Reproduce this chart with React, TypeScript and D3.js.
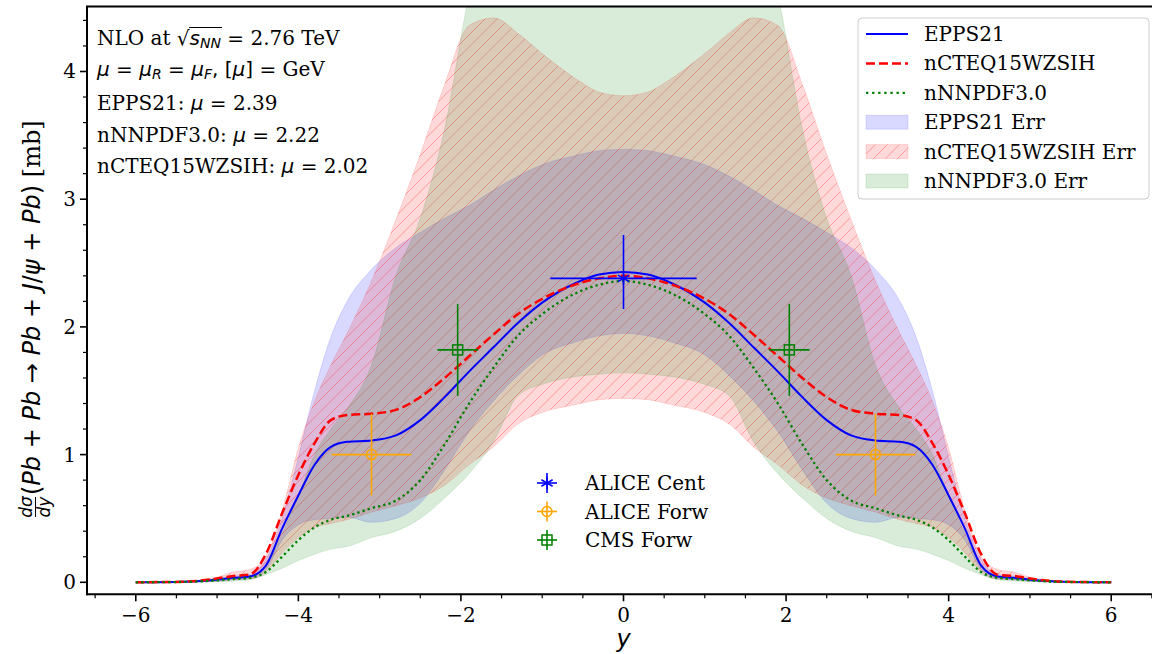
import React, { useLayoutEffect, useRef, useState } from 'react';
import * as d3 from 'd3';

// rapidity grid
const rapidity = [-6, -5.4, -5.0, -4.8, -4.6, -4.4, -4.2, -4.0, -3.8, -3.6, -3.4, -3.1, -2.8, -2.5, -2.2, -1.9, -1.6, -1.3, -1.0, -0.6, -0.3, 0, 0.3, 0.6, 1.0, 1.3, 1.6, 1.9, 2.2, 2.5, 2.8, 3.1, 3.4, 3.6, 3.8, 4.0, 4.2, 4.4, 4.6, 4.8, 5.0, 5.4, 6];

// central predictions
const eppsCentral = [0, 0.005, 0.02, 0.035, 0.045, 0.13, 0.42, 0.68, 0.92, 1.06, 1.10, 1.11, 1.15, 1.27, 1.45, 1.65, 1.84, 2.03, 2.19, 2.34, 2.41, 2.43, 2.41, 2.34, 2.19, 2.03, 1.84, 1.65, 1.45, 1.27, 1.15, 1.11, 1.10, 1.06, 0.92, 0.68, 0.42, 0.13, 0.045, 0.035, 0.02, 0.005, 0];
const ncteqCentral = [0, 0.005, 0.03, 0.05, 0.06, 0.22, 0.54, 0.84, 1.09, 1.27, 1.31, 1.32, 1.35, 1.45, 1.60, 1.77, 1.94, 2.10, 2.22, 2.33, 2.38, 2.40, 2.38, 2.33, 2.22, 2.10, 1.94, 1.77, 1.60, 1.45, 1.35, 1.32, 1.31, 1.27, 1.09, 0.84, 0.54, 0.22, 0.06, 0.05, 0.03, 0.005, 0];
const nnpdfCentral = [0, 0.003, 0.015, 0.025, 0.035, 0.08, 0.20, 0.33, 0.43, 0.49, 0.52, 0.58, 0.64, 0.80, 1.08, 1.40, 1.68, 1.93, 2.10, 2.26, 2.33, 2.36, 2.33, 2.26, 2.10, 1.93, 1.68, 1.40, 1.08, 0.80, 0.64, 0.58, 0.52, 0.49, 0.43, 0.33, 0.20, 0.08, 0.035, 0.025, 0.015, 0.003, 0];

// uncertainty bands
const eppsHi = [0, 0.005, 0.03, 0.05, 0.06, 0.18, 0.50, 0.98, 1.50, 1.92, 2.20, 2.45, 2.62, 2.74, 2.85, 2.95, 3.07, 3.18, 3.27, 3.34, 3.38, 3.39, 3.38, 3.34, 3.27, 3.18, 3.07, 2.95, 2.85, 2.74, 2.62, 2.45, 2.20, 1.92, 1.50, 0.98, 0.50, 0.18, 0.06, 0.05, 0.03, 0.005, 0];
const eppsLo = [0, 0.002, 0.01, 0.02, 0.03, 0.10, 0.33, 0.45, 0.49, 0.50, 0.51, 0.47, 0.50, 0.62, 0.88, 1.18, 1.42, 1.62, 1.78, 1.88, 1.93, 1.95, 1.93, 1.88, 1.78, 1.62, 1.42, 1.18, 0.88, 0.62, 0.50, 0.47, 0.51, 0.50, 0.49, 0.45, 0.33, 0.10, 0.03, 0.02, 0.01, 0.002, 0];
const ncteqHi = [0, 0.01, 0.04, 0.08, 0.10, 0.20, 0.56, 1.05, 1.42, 1.70, 1.95, 2.36, 2.84, 3.35, 3.90, 4.36, 4.42, 4.30, 4.14, 3.95, 3.84, 3.81, 3.84, 3.95, 4.14, 4.30, 4.42, 4.36, 3.90, 3.35, 2.84, 2.36, 1.95, 1.70, 1.42, 1.05, 0.56, 0.20, 0.10, 0.08, 0.04, 0.01, 0];
const ncteqLo = [0, 0.002, 0.01, 0.02, 0.025, 0.08, 0.23, 0.35, 0.43, 0.46, 0.49, 0.55, 0.60, 0.66, 0.76, 0.92, 1.06, 1.24, 1.33, 1.39, 1.43, 1.44, 1.43, 1.39, 1.33, 1.24, 1.06, 0.92, 0.76, 0.66, 0.60, 0.55, 0.49, 0.46, 0.43, 0.35, 0.23, 0.08, 0.025, 0.02, 0.01, 0.002, 0];
const nnpdfHi = [0, 0.005, 0.03, 0.04, 0.05, 0.13, 0.38, 0.68, 1.00, 1.20, 1.36, 1.70, 2.40, 2.85, 3.55, 4.60, 5.30, 5.60, 5.70, 5.70, 5.70, 5.70, 5.70, 5.70, 5.70, 5.60, 5.30, 4.60, 3.55, 2.85, 2.40, 1.70, 1.36, 1.20, 1.00, 0.68, 0.38, 0.13, 0.05, 0.04, 0.03, 0.005, 0];
const nnpdfLo = [0, 0.001, 0.005, 0.01, 0.02, 0.06, 0.11, 0.17, 0.22, 0.26, 0.28, 0.35, 0.40, 0.50, 0.66, 0.85, 1.10, 1.46, 1.55, 1.61, 1.63, 1.64, 1.63, 1.61, 1.55, 1.46, 1.10, 0.85, 0.66, 0.50, 0.40, 0.35, 0.28, 0.26, 0.22, 0.17, 0.11, 0.06, 0.02, 0.01, 0.005, 0.001, 0];

// measurements
const aliceCentX = [0];
const aliceCentY = [2.38];
const aliceCentYLo = [2.14];
const aliceCentYHi = [2.72];
const aliceCentXErr = [0.9];
const aliceForwX = [-3.1, 3.1];
const aliceForwY = [1.0, 1.0];
const aliceForwYErr = [0.32, 0.32];
const aliceForwXErr = [0.49, 0.49];
const cmsForwX = [-2.04, 2.04];
const cmsForwY = [1.82, 1.82];
const cmsForwYErr = [0.36, 0.36];
const cmsForwXErr = [0.25, 0.25];

const xMajorTicks = [-6, -4, -2, 0, 2, 4, 6];
const yMajorTicks = [0, 1, 2, 3, 4];

const theoryLegend = ['EPPS21', 'nCTEQ15WZSIH', 'nNNPDF3.0', 'EPPS21 Err', 'nCTEQ15WZSIH Err', 'nNNPDF3.0 Err'];
const dataLegend = ['ALICE Cent', 'ALICE Forw', 'CMS Forw'];

const SERIF = "'DejaVu Serif', 'Liberation Serif', serif";
const SANS = "'DejaVu Sans', 'Liberation Sans', sans-serif";

const BLUE = '#0000ff';
const RED = '#ff0000';
const GREEN = '#008000';
const ORANGE = '#ffa500';

function Marker({ kind, cx, cy, color }: { kind: string; cx: number; cy: number; color: string }) {
  if (kind === 'star') {
    const r = 6.5;
    const a = Math.PI / 6;
    return (
      <g stroke={color} strokeWidth={1.5} fill="none">
        <line x1={cx} y1={cy - r} x2={cx} y2={cy + r} />
        <line x1={cx - r * Math.cos(a)} y1={cy - r * Math.sin(a)} x2={cx + r * Math.cos(a)} y2={cy + r * Math.sin(a)} />
        <line x1={cx - r * Math.cos(a)} y1={cy + r * Math.sin(a)} x2={cx + r * Math.cos(a)} y2={cy - r * Math.sin(a)} />
      </g>
    );
  }
  if (kind === 'circle') {
    return <circle cx={cx} cy={cy} r={5} fill="none" stroke={color} strokeWidth={1.5} />;
  }
  return <rect x={cx - 5} y={cy - 5} width={10} height={10} fill="none" stroke={color} strokeWidth={1.5} />;
}

export default function App() {
  const textRef = useRef<SVGTextElement>(null);
  const [ov, setOv] = useState<{ x1: number; x2: number } | null>(null);

  useLayoutEffect(() => {
    const t = textRef.current;
    if (!t) return;
    try {
      const a = t.getEndPositionOfChar(7).x;
      const b = t.getEndPositionOfChar(10).x;
      setOv({ x1: a - 0.5, x2: b + 1 });
    } catch (e) {
      /* ignore */
    }
  }, []);

  const left = 87, right = 1160, top = 6.5, bottom = 594.3;
  const x = d3.scaleLinear().domain([-6.6, 6.6]).range([left, right]);
  const y = d3.scaleLinear().domain([-0.094, 4.509]).range([bottom, top]);

  const band = (lo: number[], hi: number[]) =>
    d3.area<number>()
      .x((d) => x(d))
      .y0((_, i) => y(lo[i]))
      .y1((_, i) => y(hi[i]))
      .curve(d3.curveMonotoneX)(rapidity) || '';
  const line = (vals: number[]) =>
    d3.line<number>()
      .x((d) => x(d))
      .y((_, i) => y(vals[i]))
      .curve(d3.curveMonotoneX)(rapidity) || '';

  const xMinor = d3.range(-6.5, 6.51, 0.5).filter((v) => Math.abs(v % 2) > 1e-6 && x(v) < 1152);
  const yMinor = d3.range(0, 4.45, 0.2).filter((v) => Math.abs(v - Math.round(v)) > 1e-6);

  const eb = 1.6;

  const legX = 858, legY = 18, legW = 291, legH = 181;
  const rowY = (i: number) => 34 + i * 29.4;

  const dRowY = (i: number) => 483 + i * 28.5;

  return (
    <svg width={1152} height={654} style={{ position: 'absolute', left: 0, top: 0, background: '#fff' }}>
      <defs>
        <clipPath id="plotArea">
          <rect x={left} y={top} width={right - left} height={bottom - top} />
        </clipPath>
        <pattern id="hatch" patternUnits="userSpaceOnUse" width={12} height={12}>
          <path d="M-3,3 L3,-3 M0,12 L12,0 M9,15 L15,9" stroke="rgba(255,0,0,0.28)" strokeWidth={1} />
        </pattern>
      </defs>

      <g clipPath="url(#plotArea)">
        {/* bands */}
        <path d={band(eppsLo, eppsHi)} fill="rgba(0,0,255,0.15)" stroke="rgba(0,0,255,0.12)" strokeWidth={1} />
        <path d={band(ncteqLo, ncteqHi)} fill="rgba(255,0,0,0.15)" stroke="rgba(255,0,0,0.12)" strokeWidth={1} />
        <path d={band(ncteqLo, ncteqHi)} fill="url(#hatch)" />
        <path d={band(nnpdfLo, nnpdfHi)} fill="rgba(0,128,0,0.15)" stroke="rgba(0,128,0,0.12)" strokeWidth={1} />

        {/* central lines */}
        <path d={line(eppsCentral)} fill="none" stroke={BLUE} strokeWidth={2} />
        <path d={line(ncteqCentral)} fill="none" stroke={RED} strokeWidth={2.5} strokeDasharray="9,4" />
        <path d={line(nnpdfCentral)} fill="none" stroke={GREEN} strokeWidth={2.3} strokeDasharray="2.3,3.1" />

        {/* ALICE central */}
        {aliceCentX.map((xv, i) => (
          <g key={'ac' + i}>
            <line x1={x(xv - aliceCentXErr[i])} x2={x(xv + aliceCentXErr[i])} y1={y(aliceCentY[i])} y2={y(aliceCentY[i])} stroke={BLUE} strokeWidth={eb} />
            <line x1={x(xv)} x2={x(xv)} y1={y(aliceCentYLo[i])} y2={y(aliceCentYHi[i])} stroke={BLUE} strokeWidth={eb} />
            <Marker kind="star" cx={x(xv)} cy={y(aliceCentY[i])} color={BLUE} />
          </g>
        ))}
        {aliceForwX.map((xv, i) => (
          <g key={'af' + i}>
            <line x1={x(xv - aliceForwXErr[i])} x2={x(xv + aliceForwXErr[i])} y1={y(aliceForwY[i])} y2={y(aliceForwY[i])} stroke={ORANGE} strokeWidth={eb} />
            <line x1={x(xv)} x2={x(xv)} y1={y(aliceForwY[i] - aliceForwYErr[i])} y2={y(aliceForwY[i] + aliceForwYErr[i])} stroke={ORANGE} strokeWidth={eb} />
            <Marker kind="circle" cx={x(xv)} cy={y(aliceForwY[i])} color={ORANGE} />
          </g>
        ))}
        {cmsForwX.map((xv, i) => (
          <g key={'cf' + i}>
            <line x1={x(xv - cmsForwXErr[i])} x2={x(xv + cmsForwXErr[i])} y1={y(cmsForwY[i])} y2={y(cmsForwY[i])} stroke={GREEN} strokeWidth={eb} />
            <line x1={x(xv)} x2={x(xv)} y1={y(cmsForwY[i] - cmsForwYErr[i])} y2={y(cmsForwY[i] + cmsForwYErr[i])} stroke={GREEN} strokeWidth={eb} />
            <Marker kind="square" cx={x(xv)} cy={y(cmsForwY[i])} color={GREEN} />
          </g>
        ))}
      </g>

      {/* spines */}
      <g stroke="#000" strokeWidth={2}>
        <line x1={left} x2={left} y1={top} y2={bottom + 1} />
        <line x1={left - 1} x2={1152} y1={bottom} y2={bottom} />
        <line x1={left - 1} x2={1152} y1={top} y2={top} />
      </g>

      {/* ticks */}
      <g stroke="#000">
        {xMajorTicks.map((v) => (
          <line key={'xM' + v} x1={x(v)} x2={x(v)} y1={bottom} y2={bottom + 7} strokeWidth={1.6} />
        ))}
        {xMinor.map((v) => (
          <line key={'xm' + v} x1={x(v)} x2={x(v)} y1={bottom} y2={bottom + 4} strokeWidth={1.2} />
        ))}
        {yMajorTicks.map((v) => (
          <line key={'yM' + v} x1={left - 7} x2={left} y1={y(v)} y2={y(v)} strokeWidth={1.6} />
        ))}
        {yMinor.map((v) => (
          <line key={'ym' + v} x1={left - 4} x2={left} y1={y(v)} y2={y(v)} strokeWidth={1.2} />
        ))}
      </g>
      <g fontFamily={SERIF} fontSize={20} fill="#000">
        {xMajorTicks.map((v) => (
          <text key={'xl' + v} x={x(v)} y={622} textAnchor="middle">
            {v < 0 ? '\u2212' + Math.abs(v) : String(v)}
          </text>
        ))}
        {yMajorTicks.map((v) => (
          <text key={'yl' + v} x={76} y={y(v) + 7} textAnchor="end">
            {String(v)}
          </text>
        ))}
      </g>

      {/* axis labels */}
      <text x={x(0)} y={647} textAnchor="middle" fontFamily={SANS} fontStyle="italic" fontSize={24}>y</text>
      <g transform="translate(0,300) rotate(-90)" fill="#000">
        <text x={-207} y={32} textAnchor="middle" fontFamily={SANS} fontStyle="italic" fontSize={17}>d&#963;</text>
        <line x1={-217} x2={-197} y1={35.5} y2={35.5} stroke="#000" strokeWidth={1} />
        <text x={-207} y={50} textAnchor="middle" fontFamily={SANS} fontStyle="italic" fontSize={17}>dy</text>
        <text x={-195} y={40} fontFamily={SANS} fontSize={24}>
          <tspan>(</tspan>
          <tspan fontStyle="italic">Pb</tspan>
          <tspan>{' + '}</tspan>
          <tspan fontStyle="italic">Pb</tspan>
          <tspan>{' \u2192 '}</tspan>
          <tspan fontStyle="italic">Pb</tspan>
          <tspan>{' + '}</tspan>
          <tspan fontStyle="italic">J</tspan>
          <tspan>/</tspan>
          <tspan fontStyle="italic">&#968;</tspan>
          <tspan>{' + '}</tspan>
          <tspan fontStyle="italic">Pb</tspan>
          <tspan>)</tspan>
          <tspan fontFamily={SERIF}>{' [mb]'}</tspan>
        </text>
      </g>

      {/* annotation */}
      <g fontFamily={SERIF} fontSize={20} fill="#000">
        <text ref={textRef} x={97} y={45}>
          {'NLO at '}
          <tspan fontFamily={SANS}>{'\u221A'}</tspan>
          <tspan fontFamily={SANS} fontStyle="italic">s</tspan>
          <tspan fontFamily={SANS} fontStyle="italic" fontSize={14} dy={3}>NN</tspan>
          <tspan fontFamily={SANS} dy={-3}>{' = '}</tspan>
          {'2.76 TeV'}
        </text>
        {ov && <line x1={ov.x1} x2={ov.x2} y1={45 - 17.5} y2={45 - 17.5} stroke="#000" strokeWidth={1} />}
        <text x={97} y={76}>
          <tspan fontFamily={SANS} fontStyle="italic">&#956;</tspan>
          <tspan fontFamily={SANS}>{' = '}</tspan>
          <tspan fontFamily={SANS} fontStyle="italic">&#956;</tspan>
          <tspan fontFamily={SANS} fontStyle="italic" fontSize={14} dy={3}>R</tspan>
          <tspan fontFamily={SANS} dy={-3}>{' = '}</tspan>
          <tspan fontFamily={SANS} fontStyle="italic">&#956;</tspan>
          <tspan fontFamily={SANS} fontStyle="italic" fontSize={14} dy={3}>F</tspan>
          <tspan fontFamily={SANS} dy={-3}>{', ['}</tspan>
          <tspan fontFamily={SANS} fontStyle="italic">&#956;</tspan>
          <tspan fontFamily={SANS}>{'] = '}</tspan>
          {'GeV'}
        </text>
        {[['EPPS21: ', '2.39', 110], ['nNNPDF3.0: ', '2.22', 142], ['nCTEQ15WZSIH: ', '2.02', 173]].map(([a, b, yy]) => (
          <text key={String(a)} x={97} y={Number(yy)}>
            {a}
            <tspan fontFamily={SANS} fontStyle="italic">&#956;</tspan>
            <tspan fontFamily={SANS}>{' = '}</tspan>
            {b}
          </text>
        ))}
      </g>

      {/* theory legend */}
      <rect x={legX} y={legY} width={legW} height={legH} rx={4} fill="rgba(255,255,255,0.8)" stroke="#cccccc" strokeWidth={1} />
      <g>
        <line x1={866} x2={908} y1={rowY(0)} y2={rowY(0)} stroke={BLUE} strokeWidth={2} />
        <line x1={866} x2={908} y1={rowY(1)} y2={rowY(1)} stroke={RED} strokeWidth={2.5} strokeDasharray="9,4" />
        <line x1={866} x2={908} y1={rowY(2)} y2={rowY(2)} stroke={GREEN} strokeWidth={2.3} strokeDasharray="2.3,3.8" />
        <rect x={866} y={rowY(3) - 7} width={42} height={14} fill="rgba(0,0,255,0.15)" stroke="rgba(0,0,255,0.12)" />
        <rect x={866} y={rowY(4) - 7} width={42} height={14} fill="rgba(255,0,0,0.15)" stroke="rgba(255,0,0,0.12)" />
        <rect x={866} y={rowY(4) - 7} width={42} height={14} fill="url(#hatch)" />
        <rect x={866} y={rowY(5) - 7} width={42} height={14} fill="rgba(0,128,0,0.15)" stroke="rgba(0,128,0,0.12)" />
      </g>
      <g fontFamily={SERIF} fontSize={20} fill="#000">
        {theoryLegend.map((s, i) => (
          <text key={s} x={924} y={rowY(i) + 7}>{s}</text>
        ))}
      </g>

      {/* data legend */}
      {dataLegend.map((s, i) => {
        const c = [BLUE, ORANGE, GREEN][i];
        const k = ['star', 'circle', 'square'][i];
        const cy = dRowY(i);
        return (
          <g key={s}>
            <line x1={537} x2={557} y1={cy} y2={cy} stroke={c} strokeWidth={eb} />
            <line x1={547} x2={547} y1={cy - 10} y2={cy + 10} stroke={c} strokeWidth={eb} />
            <Marker kind={k} cx={547} cy={cy} color={c} />
            <text x={585} y={cy + 7} fontFamily={SERIF} fontSize={20} fill="#000">{s}</text>
          </g>
        );
      })}
    </svg>
  );
}
